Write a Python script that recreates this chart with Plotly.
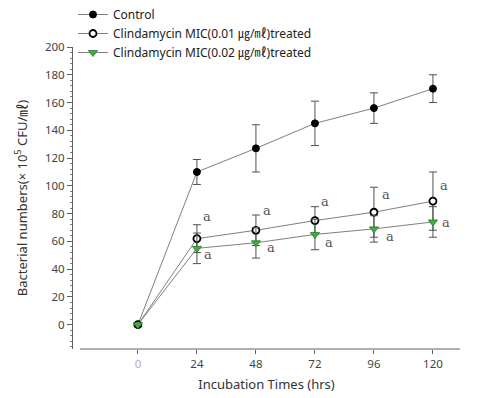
import plotly.graph_objects as go

hours = [0, 24, 48, 72, 96, 120]
control = [0, 110, 127, 145, 156, 170]
control_err = [0, 9, 17, 16, 11, 10]
mic001 = [0, 62, 68, 75, 81, 89]
mic001_err = [0, 10, 11, 10, 18, 21]
mic002 = [0, 55, 59, 65, 69, 74]
mic002_err = [0, 11, 11, 11, 9.5, 11]
sig_labels = ["", "a", "a", "a", "a", "a"]

yticks = [0, 20, 40, 60, 80, 100, 120, 140, 160, 180, 200]
xticks = [0, 24, 48, 72, 96, 120]
xticktext = ["<span style='color:#b0b0b0'>0</span>", "24", "48", "72", "96", "120"]

font_main = "Noto Sans, Noto Sans CJK KR, sans-serif"
line_col = "#808080"
err = dict(type="data", thickness=1, width=4, color="#505050")

fig = go.Figure()
fig.add_trace(go.Scatter(
    x=hours, y=control, name="Control", mode="lines+markers",
    line=dict(color=line_col, width=1),
    marker=dict(symbol="circle", size=7, color="black", line=dict(color="black", width=1)),
    error_y=dict(array=control_err, **err)))
fig.add_trace(go.Scatter(
    x=hours, y=mic001, name="Clindamycin MIC(0.01 ㎍/㎖)treated", mode="lines+markers",
    line=dict(color=line_col, width=1),
    marker=dict(symbol="circle", size=7, color="white", line=dict(color="black", width=1.8)),
    error_y=dict(array=mic001_err, **err)))
fig.add_trace(go.Scatter(
    x=hours, y=mic002, name="Clindamycin MIC(0.02 ㎍/㎖)treated", mode="lines+markers",
    line=dict(color=line_col, width=1),
    marker=dict(symbol="triangle-down", size=8, color="#3cb043", line=dict(color="#2a7a2a", width=0.8)),
    error_y=dict(array=mic002_err, **err)))

# significance letters
circ_shift = [(0, 0), (10, 22), (11, 20), (10, 19), (12, 18), (11, 16)]
tri_shift = [(0, 0), (11, -6), (15, -5), (14, -8), (16, -8), (13, -1)]
for i, h in enumerate(hours):
    if not sig_labels[i]:
        continue
    for vals, sh in ((mic001, circ_shift), (mic002, tri_shift)):
        fig.add_annotation(x=h, y=vals[i], text=sig_labels[i], showarrow=False,
                           xshift=sh[i][0], yshift=sh[i][1],
                           font=dict(family="DejaVu Serif, Liberation Serif, serif", size=13, color="#555"))

# offset x-axis line
fig.add_shape(type="line", xref="x", yref="paper", x0=-23.6, x1=131, y0=0, y1=0,
              line=dict(color="#606060", width=1))

fig.update_layout(
    width=481, height=398,
    margin=dict(l=73, r=21, t=47, b=49, autoexpand=False),
    paper_bgcolor="white", plot_bgcolor="white",
    font=dict(family=font_main, size=11, color="#333"),
    showlegend=True,
    legend=dict(x=0.0, y=1.0, xref="paper", yref="container", xanchor="left", yanchor="top",
                bgcolor="rgba(0,0,0,0)", font=dict(size=12, color="#222"),
                itemwidth=30, tracegroupgap=0),
    xaxis=dict(range=[-26.4, 131], tickvals=xticks, ticktext=xticktext, showgrid=False,
               zeroline=False, showline=False, ticks="outside", ticklen=4, tickcolor="#606060",
               tickfont=dict(size=11.5, color="#444"),
               title=dict(text="Incubation Times (hrs)", font=dict(size=13, color="#333"), standoff=10)),
    yaxis=dict(range=[-17.5, 200], tickvals=yticks, showgrid=False, zeroline=False,
               showline=True, linecolor="#606060", linewidth=1,
               ticks="outside", ticklen=5, tickcolor="#606060",
               tickfont=dict(size=11.5, color="#444"),
               minor=dict(dtick=4, tick0=0, ticks="outside", ticklen=2, tickcolor="#808080"),
               title=dict(text="Bacterial numbers(× 10<sup>5</sup> CFU/㎖)", font=dict(size=13, color="#333"), standoff=14)),
)

fig.write_html("out.html")
